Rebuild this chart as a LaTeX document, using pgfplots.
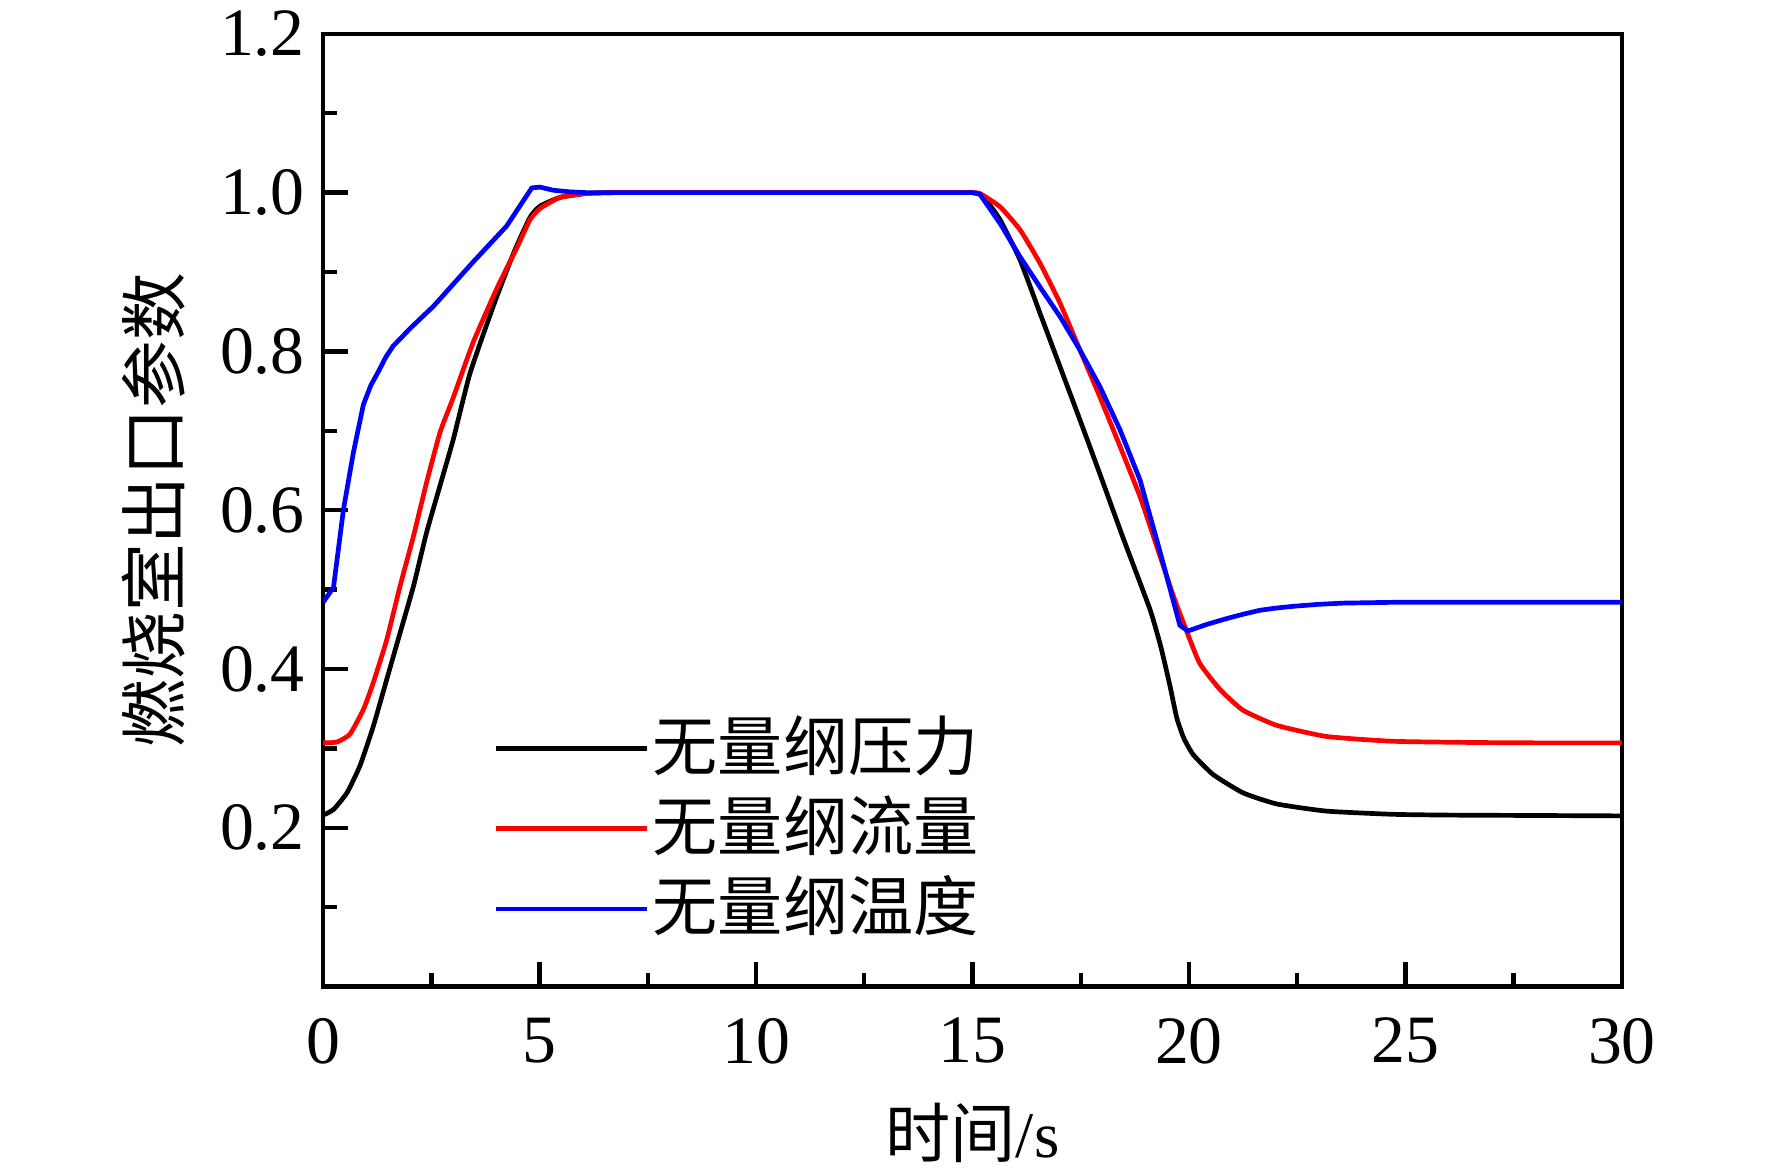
\documentclass[border=0pt]{standalone}
\usepackage{pgfplots}
\pgfplotsset{compat=1.18}
\usepackage{fontspec}
\setmainfont{Liberation Serif}
\newfontfamily\cjk{Noto Sans CJK SC}

\pgfplotstableread{
t v
0 0.216
0.24 0.223
0.55 0.244
0.85 0.278
1.16 0.328
1.47 0.387
1.78 0.446
2.09 0.505
2.39 0.572
2.70 0.631
3.01 0.690
3.39 0.772
3.93 0.857
4.40 0.924
4.78 0.969
5.01 0.983
5.47 0.994
6.09 0.999
6.7 1.0
7.3 1.0
8.0 1.0
10.0 1.0
12.0 1.0
14.0 1.0
14.6 1.0
15.0 1.0
15.17 0.998
15.35 0.988
15.64 0.9655
16.10 0.915
16.56 0.848
17.02 0.781
17.48 0.714
17.94 0.646
18.5 0.562
19.10 0.475
19.35 0.428
19.56 0.379
19.72 0.338
19.88 0.313
20.10 0.292
20.56 0.267
21.25 0.244
22.03 0.230
23.18 0.221
24.7 0.217
26 0.216
28 0.2155
30 0.215
}\pressure

\pgfplotstableread{
t v
0 0.307
0.32 0.308
0.62 0.318
0.93 0.349
1.16 0.383
1.47 0.437
1.78 0.505
2.09 0.568
2.39 0.635
2.70 0.698
3.0 0.741
3.47 0.812
4.01 0.879
4.47 0.930
4.78 0.966
5.01 0.980
5.47 0.994
6.09 0.999
6.7 1.0
7.3 1.0
8.0 1.0
10.0 1.0
12.0 1.0
14.0 1.0
14.6 1.0
15.0 1.0
15.17 0.999
15.64 0.982
16.10 0.953
16.56 0.911
17.02 0.861
17.48 0.802
17.94 0.743
18.41 0.680
18.87 0.617
19.18 0.567
19.64 0.492
19.95 0.447
20.25 0.407
20.72 0.374
21.25 0.348
22.03 0.329
23.18 0.315
24.7 0.309
26.5 0.3075
28 0.307
30 0.307
}\flow

\pgfplotstableread{
t v
0 0.484
0.24 0.503
0.47 0.601
0.70 0.673
0.93 0.733
1.10 0.757
1.28 0.775
1.45 0.793
1.62 0.807
1.80 0.817
2.01 0.829
2.55 0.857
3.47 0.913
4.24 0.958
4.82 1.006
5.01 1.007
5.32 1.003
5.7 1.001
6.09 1.0
15.0 1.0
15.17 0.998
15.64 0.961
16.10 0.919
16.56 0.881
17.02 0.844
17.48 0.802
17.94 0.756
18.41 0.701
18.87 0.638
19.33 0.548
19.79 0.455
19.98 0.448
20.40 0.456
20.87 0.4635
21.25 0.469
21.64 0.474
22.0 0.4767
22.41 0.479
23.0 0.4815
23.56 0.483
24.7 0.484
30 0.484
}\temperature

\begin{document}
\begin{tikzpicture}
\path[use as bounding box] (-62pt,-35.5pt) rectangle (278pt,189.3pt);
\begin{axis}[
  at={(0pt,0pt)}, anchor=south west,
  scale only axis, width=249.2pt, height=182.8pt,
  xmin=0, xmax=30, ymin=0, ymax=1.2,
  xtick={0,5,...,30}, minor xtick={2.5,7.5,...,27.5},
  ytick={0.2,0.4,0.6,0.8,1.0,1.2}, minor ytick={0.1,0.3,0.5,0.7,0.9,1.1},
  tick pos=left, tick align=inside,
  major tick length=4.7pt, minor tick length=2.6pt,
  axis line style={line width=0.85pt},
  every tick/.style={line width=0.85pt, black},
  /pgf/number format/assume math mode=true,
  ticklabel style={font=\fontsize{13}{15}\selectfont},
  yticklabel style={/pgf/number format/fixed, /pgf/number format/fixed zerofill, /pgf/number format/precision=1},
  xticklabel style={yshift=-2.5pt},
  xlabel={{\cjk 时间}/s},
  xlabel style={font=\fontsize{12.5}{15}\selectfont, at={(axis description cs:0.5,-0.1532)}, anchor=center},
  ylabel={燃烧室出口参数},
  ylabel style={font=\fontsize{13}{15}\selectfont\cjk, at={(axis description cs:-0.1308,0.5)}, anchor=center},
  legend style={draw=none, fill=none, at={(axis cs:3.93,0.338)}, anchor=north west,
    inner sep=0pt, outer sep=0pt, row sep=0pt, column sep=0.6pt,
    nodes={inner sep=0pt, text height=10pt, text depth=5.4pt, font=\fontsize{12.5}{15}\selectfont\cjk}},
  legend cell align=left,
  legend image code/.code={\draw[#1, line width=0.9pt] (0pt,1.9pt) -- (29.1pt,1.9pt);},
]
\addplot[black, line width=0.9pt, smooth, tension=0.3] table[x=t, y=v] {\pressure};
\addlegendentry{无量纲压力}
\addplot[red, line width=0.9pt, smooth, tension=0.3] table[x=t, y=v] {\flow};
\addlegendentry{无量纲流量}
\addplot[blue, line width=0.9pt] table[x=t, y=v] {\temperature};
\addlegendentry{无量纲温度}
\end{axis}
\end{tikzpicture}
\end{document}
